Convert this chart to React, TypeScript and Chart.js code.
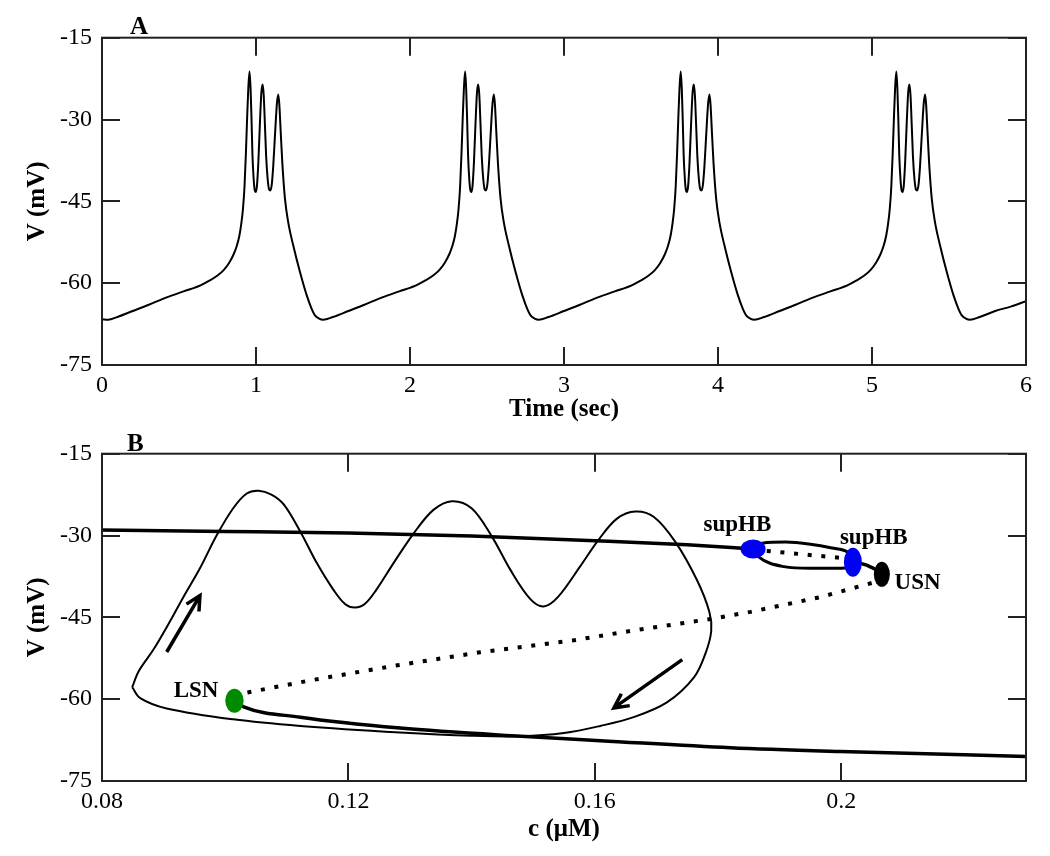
import React, { useEffect, useRef } from 'react';
import { Chart, registerables } from 'chart.js';

Chart.register(...registerables);

// ---------- Panel A: membrane potential vs time ----------
const timeSec = [
  0.000, 0.040,
  0.100, 0.200, 0.300, 0.420, 0.530, 0.640, 0.700, 0.750, 0.790, 0.825, 0.855, 0.875, 0.892, 0.905, 0.915, 0.925, 0.934, 0.942, 0.950, 0.958, 0.965, 0.971, 0.977, 0.985, 0.992, 0.998, 1.006, 1.015, 1.025, 1.035, 1.043, 1.050, 1.058, 1.066, 1.076, 1.085, 1.093, 1.102, 1.112, 1.124, 1.136, 1.145, 1.152, 1.160, 1.171, 1.188, 1.209, 1.242, 1.286, 1.329, 1.360, 1.383, 1.410, 1.436,
  1.500, 1.600, 1.700, 1.820, 1.930, 2.040, 2.100, 2.150, 2.190, 2.225, 2.255, 2.275, 2.292, 2.305, 2.315, 2.325, 2.334, 2.342, 2.350, 2.358, 2.365, 2.371, 2.377, 2.385, 2.392, 2.398, 2.406, 2.415, 2.425, 2.435, 2.443, 2.450, 2.458, 2.466, 2.476, 2.485, 2.493, 2.502, 2.512, 2.524, 2.536, 2.545, 2.552, 2.560, 2.571, 2.588, 2.609, 2.642, 2.686, 2.729, 2.760, 2.783, 2.810, 2.836,
  2.900, 3.000, 3.100, 3.220, 3.330, 3.440, 3.500, 3.550, 3.590, 3.625, 3.655, 3.675, 3.692, 3.705, 3.715, 3.725, 3.734, 3.742, 3.750, 3.758, 3.765, 3.771, 3.777, 3.785, 3.792, 3.798, 3.806, 3.815, 3.825, 3.835, 3.843, 3.850, 3.858, 3.866, 3.876, 3.885, 3.893, 3.902, 3.912, 3.924, 3.936, 3.945, 3.952, 3.960, 3.971, 3.988, 4.009, 4.042, 4.086, 4.129, 4.160, 4.183, 4.210, 4.236,
  4.300, 4.400, 4.500, 4.620, 4.730, 4.840, 4.900, 4.950, 4.990, 5.025, 5.055, 5.075, 5.092, 5.105, 5.115, 5.125, 5.134, 5.142, 5.150, 5.158, 5.165, 5.171, 5.177, 5.185, 5.192, 5.198, 5.206, 5.215, 5.225, 5.235, 5.243, 5.250, 5.258, 5.266, 5.276, 5.285, 5.293, 5.302, 5.312, 5.324, 5.336, 5.345, 5.352, 5.360, 5.371, 5.388, 5.409, 5.442, 5.486, 5.529, 5.560, 5.583, 5.610, 5.636,
  5.700, 5.800, 5.900, 6.000,
];
const voltageMv = [
  -66.6, -66.7,
  -66.2, -65.1, -64.0, -62.6, -61.5, -60.4, -59.5, -58.6, -57.6, -56.3, -54.7, -53.2, -51.3, -49.0, -46.5, -42.5, -36.5, -30.0, -24.3, -21.2, -24.5, -30.0, -36.5, -41.0, -43.0, -43.3, -42.2, -38.0, -31.0, -25.0, -23.6, -25.5, -31.0, -36.8, -41.0, -42.8, -43.0, -42.0, -38.5, -32.5, -27.0, -25.4, -27.5, -32.0, -38.0, -44.5, -48.8, -53.1, -58.0, -62.2, -64.6, -65.9, -66.5, -66.7,
  -66.2, -65.1, -64.0, -62.6, -61.5, -60.4, -59.5, -58.6, -57.6, -56.3, -54.7, -53.2, -51.3, -49.0, -46.5, -42.5, -36.5, -30.0, -24.3, -21.2, -24.5, -30.0, -36.5, -41.0, -43.0, -43.3, -42.2, -38.0, -31.0, -25.0, -23.6, -25.5, -31.0, -36.8, -41.0, -42.8, -43.0, -42.0, -38.5, -32.5, -27.0, -25.4, -27.5, -32.0, -38.0, -44.5, -48.8, -53.1, -58.0, -62.2, -64.6, -65.9, -66.5, -66.7,
  -66.2, -65.1, -64.0, -62.6, -61.5, -60.4, -59.5, -58.6, -57.6, -56.3, -54.7, -53.2, -51.3, -49.0, -46.5, -42.5, -36.5, -30.0, -24.3, -21.2, -24.5, -30.0, -36.5, -41.0, -43.0, -43.3, -42.2, -38.0, -31.0, -25.0, -23.6, -25.5, -31.0, -36.8, -41.0, -42.8, -43.0, -42.0, -38.5, -32.5, -27.0, -25.4, -27.5, -32.0, -38.0, -44.5, -48.8, -53.1, -58.0, -62.2, -64.6, -65.9, -66.5, -66.7,
  -66.2, -65.1, -64.0, -62.6, -61.5, -60.4, -59.5, -58.6, -57.6, -56.3, -54.7, -53.2, -51.3, -49.0, -46.5, -42.5, -36.5, -30.0, -24.3, -21.2, -24.5, -30.0, -36.5, -41.0, -43.0, -43.3, -42.2, -38.0, -31.0, -25.0, -23.6, -25.5, -31.0, -36.8, -41.0, -42.8, -43.0, -42.0, -38.5, -32.5, -27.0, -25.4, -27.5, -32.0, -38.0, -44.5, -48.8, -53.1, -58.0, -62.2, -64.6, -65.9, -66.5, -66.7,
  -66.2, -65.1, -64.3, -63.3,
];
const timeTicks = [0, 1, 2, 3, 4, 5, 6];
const timeTickLabels = ['0', '1', '2', '3', '4', '5', '6'];
const voltTicks = [-75, -60, -45, -30, -15];
const voltTickLabels = ['-75', '-60', '-45', '-30', '-15'];

// ---------- Panel B: phase plane (c, V) ----------
const concTicks = [0.08, 0.12, 0.16, 0.2];
const concTickLabels = ['0.08', '0.12', '0.16', '0.2'];

// burst trajectory (closed loop)
const trajC = [0.0849, 0.0860, 0.0883, 0.0908, 0.0932, 0.0959, 0.0986, 0.1013, 0.1035, 0.1054, 0.1075, 0.1095, 0.1122, 0.1149, 0.1176, 0.1195, 0.1211, 0.1227, 0.1245, 0.1273, 0.1306, 0.1338, 0.1368, 0.1400, 0.1433, 0.1463, 0.1495, 0.1517, 0.1540, 0.1576, 0.1606, 0.1636, 0.1666, 0.1696, 0.1731, 0.1766, 0.1786, 0.1789, 0.1780, 0.1761, 0.1717, 0.1663, 0.1609, 0.1550, 0.1480, 0.1400, 0.1284, 0.1122, 0.1013, 0.0905, 0.0862, 0.0849];
const trajV = [-57.8, -54.8, -51.0, -46.2, -41.3, -36.0, -30.0, -25.0, -22.3, -21.8, -22.5, -24.3, -29.3, -35.1, -40.0, -42.6, -43.2, -42.5, -40.0, -35.1, -29.6, -25.3, -23.7, -25.0, -30.2, -36.3, -41.6, -43.0, -41.3, -35.7, -30.8, -26.9, -25.6, -26.6, -31.2, -38.2, -44.0, -47.5, -51.5, -56.0, -60.6, -63.3, -64.9, -66.2, -66.8, -66.7, -66.1, -64.9, -63.7, -61.7, -59.8, -57.8];

// upper stable branch up to first supHB
const upperBranchC = [0.08, 0.10, 0.12, 0.14, 0.16, 0.175, 0.1857];
const upperBranchV = [-29.0, -29.25, -29.55, -30.1, -30.95, -31.7, -32.46];
// unstable equilibria between the two supHB points
const hbUnstableC = [0.1857, 0.2019];
const hbUnstableV = [-32.6, -34.3];
// periodic orbit envelope (max / min)
const envMaxC = [0.1857, 0.1872, 0.1910, 0.1950, 0.1985, 0.2010, 0.2019];
const envMaxV = [-32.3, -31.4, -31.2, -31.6, -32.3, -33.0, -34.0];
const envMinC = [0.1857, 0.1866, 0.1907, 0.1950, 0.1988, 0.2010, 0.2019];
const envMinV = [-32.6, -33.9, -35.7, -36.0, -36.0, -35.9, -35.5];
// stable piece from second supHB to USN
const upperStable2C = [0.2019, 0.2040, 0.2066];
const upperStable2V = [-34.7, -35.4, -36.8];
// middle (unstable) branch from USN to LSN
const middleBranchC = [0.2066, 0.2053, 0.1966, 0.1853, 0.1788, 0.1663, 0.1566, 0.1414, 0.1273, 0.1141, 0.1030, 0.1015];
const middleBranchV = [-37.1, -38.6, -41.3, -44.0, -45.3, -47.4, -49.2, -51.4, -53.9, -56.5, -58.9, -60.3];
// lower stable branch from LSN
const lowerBranchC = [0.1015, 0.1030, 0.1122, 0.1284, 0.1480, 0.1609, 0.1820, 0.1999, 0.2300];
const lowerBranchV = [-60.3, -61.4, -63.3, -65.3, -66.8, -67.6, -68.9, -69.6, -70.5];

// bifurcation points
const markerNames = ['supHB', 'supHB', 'USN', 'LSN'];
const markerC = [0.1857, 0.2019, 0.2066, 0.1015];
const markerV = [-32.46, -34.88, -37.12, -60.27];

// direction arrows
const arrowFromC = [0.0905, 0.1742];
const arrowFromV = [-51.35, -52.75];
const arrowToC = [0.0959, 0.1631];
const arrowToV = [-41.0, -61.6];

// ---------- styling ----------
const FONT = "'Liberation Serif', 'Times New Roman', 'DejaVu Serif', serif";
const W = 1050;
const H = 428;

const pts = (xs: number[], ys: number[]) => xs.map((x, i) => ({ x, y: ys[i] }));

const framePlugin = {
  id: 'frameTicks',
  afterDraw(chart: any, _args: any, opts: any) {
    const { ctx, chartArea: a, scales } = chart;
    const L = 18;
    ctx.save();
    ctx.strokeStyle = '#222';
    ctx.lineWidth = 2;
    ctx.beginPath();
    for (const t of scales.x.ticks) {
      const px = Math.round(scales.x.getPixelForValue(t.value));
      ctx.moveTo(px, a.bottom);
      ctx.lineTo(px, a.bottom - L);
      ctx.moveTo(px, a.top);
      ctx.lineTo(px, a.top + L);
    }
    for (const t of scales.y.ticks) {
      const py = Math.round(scales.y.getPixelForValue(t.value));
      ctx.moveTo(a.left, py);
      ctx.lineTo(a.left + L, py);
      ctx.moveTo(a.right, py);
      ctx.lineTo(a.right - L, py);
    }
    ctx.stroke();
    ctx.strokeRect(a.left, a.top, a.right - a.left, a.bottom - a.top);
    if (opts && opts.letter) {
      ctx.fillStyle = '#000';
      ctx.font = `bold 25px ${FONT}`;
      ctx.textAlign = 'left';
      ctx.textBaseline = 'alphabetic';
      ctx.fillText(opts.letter, a.left + opts.letterDx, a.top + opts.letterDy);
    }
    ctx.restore();
  },
};

const markerStyle = [
  { color: '#0000f5', rx: 12.5, ry: 9.5, dx: -49.6, dy: -18.3 },
  { color: '#0000f5', rx: 9, ry: 14.5, dx: -13, dy: -18 },
  { color: '#000000', rx: 8, ry: 12.5, dx: 12.7, dy: 14.3 },
  { color: '#008a00', rx: 9.2, ry: 12, dx: -60.7, dy: -4 },
];

const phasePlugin = {
  id: 'phaseDecor',
  afterDatasetsDraw(chart: any) {
    const { ctx, scales } = chart;
    const xs = scales.x;
    const ys = scales.y;
    ctx.save();
    // arrows
    ctx.strokeStyle = '#000';
    ctx.lineWidth = 3.5;
    ctx.lineCap = 'butt';
    for (let i = 0; i < arrowFromC.length; i++) {
      const x0 = xs.getPixelForValue(arrowFromC[i]);
      const y0 = ys.getPixelForValue(arrowFromV[i]);
      const x1 = xs.getPixelForValue(arrowToC[i]);
      const y1 = ys.getPixelForValue(arrowToV[i]);
      const ang = Math.atan2(y0 - y1, x0 - x1);
      const hl = 16;
      const ha = (27 * Math.PI) / 180;
      ctx.beginPath();
      ctx.moveTo(x0, y0);
      ctx.lineTo(x1, y1);
      ctx.moveTo(x1 + hl * Math.cos(ang + ha), y1 + hl * Math.sin(ang + ha));
      ctx.lineTo(x1, y1);
      ctx.lineTo(x1 + hl * Math.cos(ang - ha), y1 + hl * Math.sin(ang - ha));
      ctx.stroke();
    }
    // markers + labels
    ctx.font = `bold 23px ${FONT}`;
    ctx.textAlign = 'left';
    ctx.textBaseline = 'alphabetic';
    for (let i = 0; i < markerC.length; i++) {
      const px = xs.getPixelForValue(markerC[i]);
      const py = ys.getPixelForValue(markerV[i]);
      const s = markerStyle[i];
      ctx.fillStyle = s.color;
      ctx.beginPath();
      ctx.ellipse(px, py, s.rx, s.ry, 0, 0, Math.PI * 2);
      ctx.fill();
      ctx.fillStyle = '#000';
      ctx.fillText(markerNames[i], px + s.dx, py + s.dy);
    }
    ctx.restore();
  },
};

function makeOptions(cfg: {
  xMin: number; xMax: number; xTicks: number[]; xLabels: string[]; xTitle: string;
  topPad: number; xAxisH: number; titlePadBottom: number; letter: string; letterDx: number; letterDy: number;
}) {
  return {
    responsive: false,
    animation: false as const,
    events: [] as any[],
    layout: { padding: { left: 0, top: cfg.topPad, right: W - 1026, bottom: 0 } },
    plugins: {
      legend: { display: false },
      tooltip: { enabled: false },
      frameTicks: { letter: cfg.letter, letterDx: cfg.letterDx, letterDy: cfg.letterDy },
    },
    elements: { point: { radius: 0 } },
    scales: {
      x: {
        type: 'linear' as const,
        min: cfg.xMin,
        max: cfg.xMax,
        grid: { display: false, drawTicks: false },
        border: { display: false },
        afterBuildTicks: (s: any) => { s.ticks = cfg.xTicks.map((v) => ({ value: v })); },
        afterFit: (s: any) => { s.height = cfg.xAxisH; },
        ticks: {
          autoSkip: false,
          maxRotation: 0,
          padding: 6,
          color: '#000',
          font: { family: FONT, size: 24 },
          callback: (v: any) => cfg.xLabels[cfg.xTicks.indexOf(v)] ?? '',
        },
        title: {
          display: true,
          text: cfg.xTitle,
          color: '#000',
          font: { family: FONT, size: 25, weight: 'bold' as const, lineHeight: 1.2 },
          padding: { top: 0, bottom: cfg.titlePadBottom },
        },
      },
      y: {
        type: 'linear' as const,
        min: -75,
        max: -15,
        grid: { display: false, drawTicks: false },
        border: { display: false },
        afterBuildTicks: (s: any) => { s.ticks = voltTicks.map((v) => ({ value: v })); },
        afterFit: (s: any) => { s.width = 102; },
        ticks: {
          autoSkip: false,
          padding: 10,
          color: '#000',
          font: { family: FONT, size: 24 },
          callback: (v: any) => voltTickLabels[voltTicks.indexOf(v)] ?? '',
        },
        title: {
          display: true,
          text: 'V (mV)',
          color: '#000',
          font: { family: FONT, size: 25, weight: 'bold' as const, lineHeight: 1.2 },
          padding: { top: 23, bottom: 0 },
        },
      },
    },
  };
}

export default function App() {
  const refA = useRef<HTMLCanvasElement | null>(null);
  const refB = useRef<HTMLCanvasElement | null>(null);

  useEffect(() => {
    if (!refA.current || !refB.current) return;
    const chartA = new Chart(refA.current, {
      type: 'line',
      data: {
        datasets: [
          {
            data: pts(timeSec, voltageMv),
            borderColor: '#000',
            borderWidth: 2,
            pointRadius: 0,
            fill: false,
            cubicInterpolationMode: 'monotone',
          },
        ],
      },
      options: makeOptions({
        xMin: 0, xMax: 6, xTicks: timeTicks, xLabels: timeTickLabels, xTitle: 'Time (sec)',
        topPad: 37.7, xAxisH: H - 365, titlePadBottom: 3, letter: 'A', letterDx: 28, letterDy: -4,
      }) as any,
      plugins: [framePlugin],
    });

    const chartB = new Chart(refB.current, {
      type: 'line',
      data: {
        datasets: [
          { data: pts(trajC, trajV), borderColor: '#000', borderWidth: 2, pointRadius: 0, fill: false, tension: 0.35 },
          { data: pts(upperBranchC, upperBranchV), borderColor: '#000', borderWidth: 3.5, pointRadius: 0, fill: false, cubicInterpolationMode: 'monotone' },
          { data: pts(hbUnstableC, hbUnstableV), borderColor: '#000', borderWidth: 4, pointRadius: 0, fill: false, borderDash: [4, 9.7], borderCapStyle: 'butt' },
          { data: pts(envMaxC, envMaxV), borderColor: '#000', borderWidth: 3, pointRadius: 0, fill: false, cubicInterpolationMode: 'monotone' },
          { data: pts(envMinC, envMinV), borderColor: '#000', borderWidth: 3, pointRadius: 0, fill: false, cubicInterpolationMode: 'monotone' },
          { data: pts(upperStable2C, upperStable2V), borderColor: '#000', borderWidth: 3.5, pointRadius: 0, fill: false, cubicInterpolationMode: 'monotone' },
          { data: pts(middleBranchC, middleBranchV), borderColor: '#000', borderWidth: 4, pointRadius: 0, fill: false, tension: 0, borderDash: [4, 9.7], borderCapStyle: 'butt' },
          { data: pts(lowerBranchC, lowerBranchV), borderColor: '#000', borderWidth: 3.5, pointRadius: 0, fill: false, cubicInterpolationMode: 'monotone' },
        ],
      },
      options: makeOptions({
        xMin: 0.08, xMax: 0.23, xTicks: concTicks, xLabels: concTickLabels, xTitle: 'c (\u03bcM)',
        topPad: 25.7, xAxisH: H - 353, titlePadBottom: 11, letter: 'B', letterDx: 25, letterDy: -3,
      }) as any,
      plugins: [framePlugin, phasePlugin],
    });

    return () => {
      chartA.destroy();
      chartB.destroy();
    };
  }, []);

  return (
    <div style={{ position: 'absolute', left: 0, top: 0, width: W, height: 856, background: '#fff' }}>
      <canvas ref={refA} width={W} height={H} style={{ position: 'absolute', left: 0, top: 0, display: 'block' }} />
      <canvas ref={refB} width={W} height={H} style={{ position: 'absolute', left: 0, top: 428, display: 'block' }} />
    </div>
  );
}
